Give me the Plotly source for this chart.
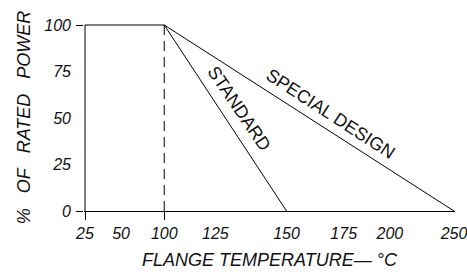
import numpy as np
import plotly.graph_objects as go

# ---- data ----
plateau_temp = [25, 25, 100]
plateau_power = [0, 100, 100]
standard_temp = [100, 150]
standard_power = [100, 0]
special_temp = [100, 250]
special_power = [100, 0]
knee_temp = [100, 100]
knee_power = [100, 0]

x_tick_vals = [25, 50, 100, 125, 150, 175, 200, 250]
x_tick_labels = ["25", "50", "100", "125", "150", "175", "200", "250"]
y_tick_vals = [0, 25, 50, 75, 100]
y_tick_labels = ["0", "25", "50", "75", "100"]

# ---- the drawing uses a non-uniform temperature scale: calibration ----
SCALE_FRAC = [0.0, 0.0978, 0.2147, 0.3533, 0.5462, 0.7011, 0.8261, 1.0]


def u(t):
    return np.interp(t, x_tick_vals, SCALE_FRAC)


W, H = 467, 272
ML, MR, MT, MB = 84, 12, 24, 61
plot_w = W - ML - MR
plot_h = H - MT - MB
span_px = 369.0  # pixels between 25 and 250
x_range = [-1 / span_px, -1 / span_px + plot_w / span_px]
y_range = [0, 100 * plot_h / 186.0]

FONT = "Liberation Sans, Arial, sans-serif"
INK = "#111111"
line = dict(color="black", width=1)

fig = go.Figure()
fig.add_trace(go.Scatter(x=u(plateau_temp), y=plateau_power, mode="lines", line=line, hoverinfo="skip"))
fig.add_trace(go.Scatter(x=u(knee_temp), y=knee_power, mode="lines",
                         line=dict(color="black", width=1, dash="10px,6px"), hoverinfo="skip"))
fig.add_trace(go.Scatter(x=u(standard_temp), y=standard_power, mode="lines", line=line, hoverinfo="skip"))
fig.add_trace(go.Scatter(x=u(special_temp), y=special_power, mode="lines", line=line, hoverinfo="skip"))
# tick-mark overlay axes
fig.add_trace(go.Scatter(x=[], y=[], xaxis="x2", yaxis="y2", hoverinfo="skip"))


def on_line(t0, p0, t1, p1, f):
    return u(t0) + f * (u(t1) - u(t0)), p0 + f * (p1 - p0)


sx, sy = on_line(standard_temp[0], standard_power[0], standard_temp[1], standard_power[1], 0.5)
px, py = on_line(special_temp[0], special_power[0], special_temp[1], special_power[1], 0.547)

fig.add_annotation(x=sx, y=sy, text="STANDARD", showarrow=False, textangle=56,
                   xshift=14, yshift=9, font=dict(family=FONT, size=18, color=INK))
fig.add_annotation(x=px, y=py, text="SPECIAL DESIGN", showarrow=False, textangle=33,
                   xshift=8, yshift=13, font=dict(family=FONT, size=18, color=INK))

tickfont = dict(family=FONT, size=16, color=INK, style="italic")

fig.update_layout(
    template="none",
    width=W, height=H, autosize=False,
    margin=dict(l=ML, r=MR, t=MT, b=MB, pad=0),
    paper_bgcolor="white", plot_bgcolor="white",
    showlegend=False,
    xaxis=dict(range=x_range, tickvals=list(u(x_tick_vals)), ticktext=x_tick_labels,
               ticks="", showline=True, linecolor="black", linewidth=1, automargin=False,
               showgrid=False, zeroline=False, tickfont=tickfont, ticklabelstandoff=8,
               ticklabeloverflow="allow",
               title=dict(text="FLANGE TEMPERATURE\u2014 \u00b0C",
                          font=dict(family=FONT, size=18, color=INK, style="italic"),
                          standoff=12)),
    xaxis2=dict(range=x_range, overlaying="x", anchor="y", side="bottom", automargin=False,
                tickvals=[u(25), u(100)], ticks="outside", ticklen=8, tickwidth=1,
                tickcolor="black", showticklabels=False, showline=False,
                showgrid=False, zeroline=False),
    yaxis=dict(range=y_range, tickvals=y_tick_vals, ticktext=y_tick_labels, automargin=False,
               ticks="", showline=False, showgrid=False, zeroline=False,
               tickfont=tickfont, ticklabelstandoff=12,
               title=dict(text="%\u00a0\u00a0\u00a0OF\u00a0\u00a0\u00a0RATED\u00a0\u00a0\u00a0POWER",
                          font=dict(family=FONT, size=18, color=INK, style="italic"),
                          standoff=8)),
    yaxis2=dict(range=y_range, overlaying="y", anchor="x", side="left", automargin=False,
                tickvals=[0, 100], ticks="outside", ticklen=7, tickwidth=1,
                tickcolor="black", showticklabels=False, showline=False,
                showgrid=False, zeroline=False),
)

fig.write_html("out.html", config={"displayModeBar": False},
               post_script="document.body.style.margin='0';")
